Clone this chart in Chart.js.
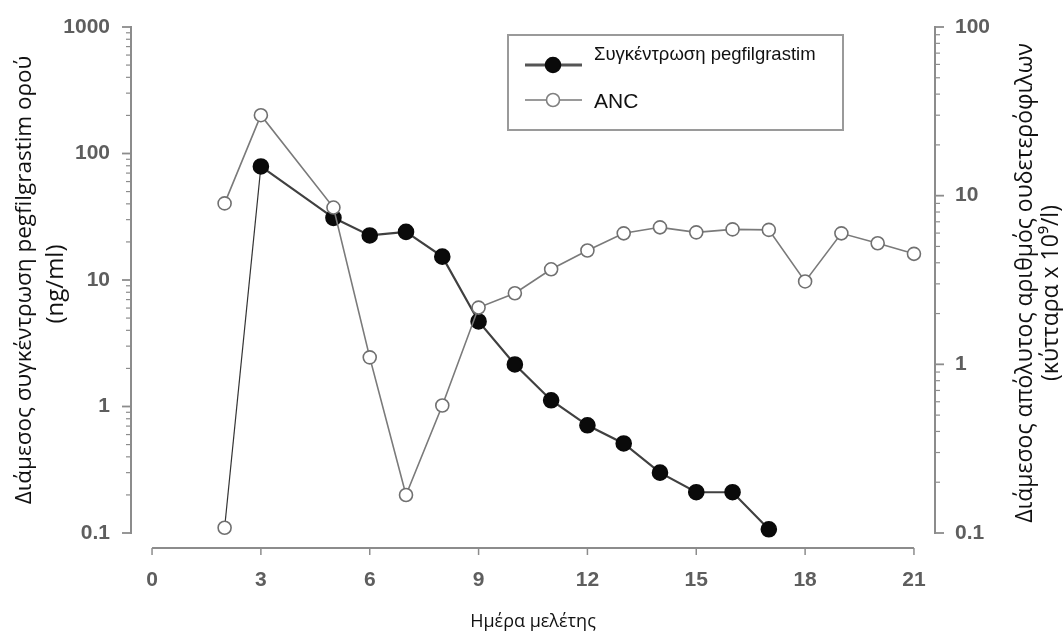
<!DOCTYPE html>
<html>
<head>
<meta charset="utf-8">
<script src="https://cdn.jsdelivr.net/npm/chart.js@4.4.1/dist/chart.umd.min.js"></script>
<style>
  html, body { margin: 0; padding: 0; background: #fff; }
  #wrap { width: 1063px; height: 637px; }
</style>
</head>
<body>
<div id="wrap"><canvas id="chart" width="1063" height="637"></canvas></div>
<script>
// ημέρες μελέτης και τιμές (εκτίμηση από την εικόνα)
const concDays = [2, 3, 5, 6, 7, 8, 9, 10, 11, 12, 13, 14, 15, 16, 17];
const concValues = [0.11, 79, 31, 22.5, 24, 15.3, 4.7, 2.15, 1.12, 0.71, 0.51, 0.30, 0.21, 0.21, 0.107];

const ancDays = [2, 3, 5, 6, 7, 8, 9, 10, 11, 12, 13, 14, 15, 16, 17, 18, 19, 20, 21];
const ancValues = [9.0, 30, 8.5, 1.1, 0.168, 0.57, 2.17, 2.64, 3.66, 4.73, 5.98, 6.49, 6.06, 6.31, 6.27, 3.10, 5.98, 5.22, 4.52];

const xTicks = [0, 3, 6, 9, 12, 15, 18, 21];
const concTicks = [0.1, 1, 10, 100, 1000];
const ancTicks = [0.1, 1, 10, 100];

const concLabel = "Συγκέντρωση pegfilgrastim";
const ancLabel = "ANC";
const xTitle = "Ημέρα μελέτης";
const leftTitle = ["Διάμεσος συγκέντρωση pegfilgrastim ορού", "(ng/ml)"];
const rightTitle = ["Διάμεσος απόλυτος αριθμός ουδετερόφιλων", "(κύτταρα x 10⁹/l)"];

const axisColor = "#8c8c8c";
const tickFont = { family: "'Liberation Sans', Arial, sans-serif", size: 21, weight: "bold" };
const tickColor = "#5e5e5e";
const titleFamily = "'Open Sans', sans-serif";

// άξονες με αποκομμένο άξονα x, υποδιαιρέσεις log και τίτλοι y
const axesPlugin = {
  id: "axesPlugin",
  afterDraw(chart) {
    const { ctx, chartArea, scales } = chart;
    ctx.save();
    ctx.strokeStyle = axisColor;

    // άξονας x
    const xs = scales.x;
    const yLine = 548;
    ctx.lineWidth = 2;
    ctx.beginPath();
    ctx.moveTo(xs.getPixelForValue(xTicks[0]), yLine);
    ctx.lineTo(xs.getPixelForValue(xTicks[xTicks.length - 1]), yLine);
    ctx.stroke();
    ctx.lineWidth = 1.5;
    xTicks.forEach(v => {
      const px = xs.getPixelForValue(v);
      ctx.beginPath();
      ctx.moveTo(px, yLine);
      ctx.lineTo(px, yLine + 7);
      ctx.stroke();
    });

    // υποδιαιρέσεις στους log άξονες
    const drawLogTicks = (scale, x0, dir) => {
      for (let k = Math.log10(scale.min); k < Math.log10(scale.max) + 0.01; k++) {
        for (let m = 1; m <= 9; m++) {
          const v = Math.pow(10, k) * m;
          if (v > scale.max * 1.001) break;
          const py = scale.getPixelForValue(v);
          const len = m === 1 ? 9 : 5;
          ctx.lineWidth = m === 1 ? 1.8 : 1.2;
          ctx.beginPath();
          ctx.moveTo(x0, py);
          ctx.lineTo(x0 + dir * len, py);
          ctx.stroke();
        }
      }
    };
    drawLogTicks(scales.yConc, chartArea.left, -1);
    drawLogTicks(scales.yAnc, chartArea.right, 1);

    // τίτλοι y (διαβάζονται από κάτω προς τα πάνω)
    ctx.fillStyle = "#111";
    ctx.textAlign = "center";
    ctx.textBaseline = "middle";
    const cy = (chartArea.top + chartArea.bottom) / 2;
    const lines = [
      { text: leftTitle[0], x: 25, dy: 0, size: 22.5 },
      { text: leftTitle[1], x: 56, dy: 4, size: 24 },
      { text: rightTitle[0], x: 1025, dy: 3, size: 23 },
      { text: rightTitle[1], x: 1051, dy: 13, size: 23 }
    ];
    lines.forEach(l => {
      ctx.save();
      ctx.font = `${l.size}px ${titleFamily}`;
      ctx.translate(l.x, cy + l.dy);
      ctx.rotate(-Math.PI / 2);
      ctx.fillText(l.text, 0, 0);
      ctx.restore();
    });
    ctx.restore();
  }
};

// υπόμνημα σε πλαίσιο
const legendPlugin = {
  id: "boxLegend",
  afterDraw(chart) {
    const { ctx } = chart;
    const ds = chart.data.datasets;
    const conc = ds.find(d => d.label === concLabel);
    const anc = ds.find(d => d.label === ancLabel);
    ctx.save();
    ctx.fillStyle = "#fff";
    ctx.fillRect(508, 35, 335, 95);
    ctx.strokeStyle = "#9a9a9a";
    ctx.lineWidth = 2;
    ctx.strokeRect(508, 35, 335, 95);

    const rows = [
      { d: conc, y: 65, ty: 55, size: 18.5, line: "#555", lw: 3, fill: "#0a0a0a", border: "#0a0a0a", r: 7.5 },
      { d: anc, y: 100, ty: 102, size: 21, line: "#9a9a9a", lw: 2, fill: "#fff", border: "#808080", r: 6.5 }
    ];
    rows.forEach(row => {
      ctx.strokeStyle = row.line;
      ctx.lineWidth = row.lw;
      ctx.beginPath();
      ctx.moveTo(525, row.y);
      ctx.lineTo(582, row.y);
      ctx.stroke();
      ctx.beginPath();
      ctx.arc(553, row.y, row.r, 0, Math.PI * 2);
      ctx.fillStyle = row.fill;
      ctx.fill();
      ctx.lineWidth = 1.6;
      ctx.strokeStyle = row.border;
      ctx.stroke();
      ctx.fillStyle = "#111";
      ctx.font = `${row.size}px 'Liberation Sans', Arial, sans-serif`;
      ctx.textAlign = "left";
      ctx.textBaseline = "middle";
      ctx.fillText(row.d.label, 594, row.ty);
    });
    ctx.restore();
  }
};

// σταθερό πλάτος και χωρίς επιπλέον περιθώριο για τις ετικέτες
const fixY = w => s => { s.width = w; s.paddingTop = 0; s.paddingBottom = 0; };

const ctx = document.getElementById("chart").getContext("2d");
new Chart(ctx, {
  type: "line",
  data: {
    datasets: [
      {
        label: ancLabel,
        data: ancDays.map((d, i) => ({ x: d, y: ancValues[i] })),
        yAxisID: "yAnc",
        order: 0,
        clip: false,
        borderColor: "#7a7a7a",
        borderWidth: 1.6,
        pointRadius: 6.5,
        pointBackgroundColor: "#fff",
        pointBorderColor: "#707070",
        pointBorderWidth: 1.6,
        tension: 0
      },
      {
        label: concLabel,
        data: concDays.map((d, i) => ({ x: d, y: concValues[i] })),
        yAxisID: "yConc",
        order: 1,
        clip: false,
        borderColor: "#404040",
        borderWidth: 2.2,
        pointRadius: c => c.dataIndex === 0 ? 6.5 : 7.5,
        pointBackgroundColor: c => c.dataIndex === 0 ? "#fff" : "#0a0a0a",
        pointBorderColor: c => c.dataIndex === 0 ? "#707070" : "#0a0a0a",
        pointBorderWidth: 1.6,
        segment: {
          borderWidth: c => c.p0DataIndex === 0 ? 1.2 : 2.2,
          borderColor: c => c.p0DataIndex === 0 ? "#333" : "#404040"
        },
        tension: 0
      }
    ]
  },
  options: {
    responsive: false,
    animation: false,
    layout: { padding: { top: 27 } },
    plugins: { legend: { display: false }, tooltip: { enabled: false } },
    scales: {
      x: {
        type: "linear",
        position: "bottom",
        min: -0.58,
        max: 21.58,
        afterBuildTicks: s => { s.ticks = xTicks.map(v => ({ value: v })); },
        afterFit: s => { s.height = 104; s.paddingLeft = 0; s.paddingRight = 0; },
        grid: { display: false, drawTicks: false },
        border: { display: false },
        ticks: { padding: 35, color: tickColor, font: tickFont, maxRotation: 0, autoSkip: false },
        title: { display: true, text: xTitle, color: "#111", font: { family: titleFamily, size: 18 }, padding: { top: 0, bottom: 4 } }
      },
      yConc: {
        type: "logarithmic",
        position: "left",
        min: 0.1,
        max: 1000,
        afterBuildTicks: s => { s.ticks = concTicks.map(v => ({ value: v })); },
        afterFit: fixY(131),
        grid: { display: false, drawTicks: false },
        border: { display: true, color: axisColor, width: 2 },
        ticks: { padding: 21, color: tickColor, font: tickFont, callback: v => String(v) }
      },
      yAnc: {
        type: "logarithmic",
        position: "right",
        min: 0.1,
        max: 100,
        afterBuildTicks: s => { s.ticks = ancTicks.map(v => ({ value: v })); },
        afterFit: fixY(128),
        grid: { display: false, drawTicks: false },
        border: { display: true, color: axisColor, width: 2 },
        ticks: { padding: 20, color: tickColor, font: tickFont, callback: v => String(v) }
      }
    }
  },
  plugins: [axesPlugin, legendPlugin]
});
</script>
</body>
</html>
